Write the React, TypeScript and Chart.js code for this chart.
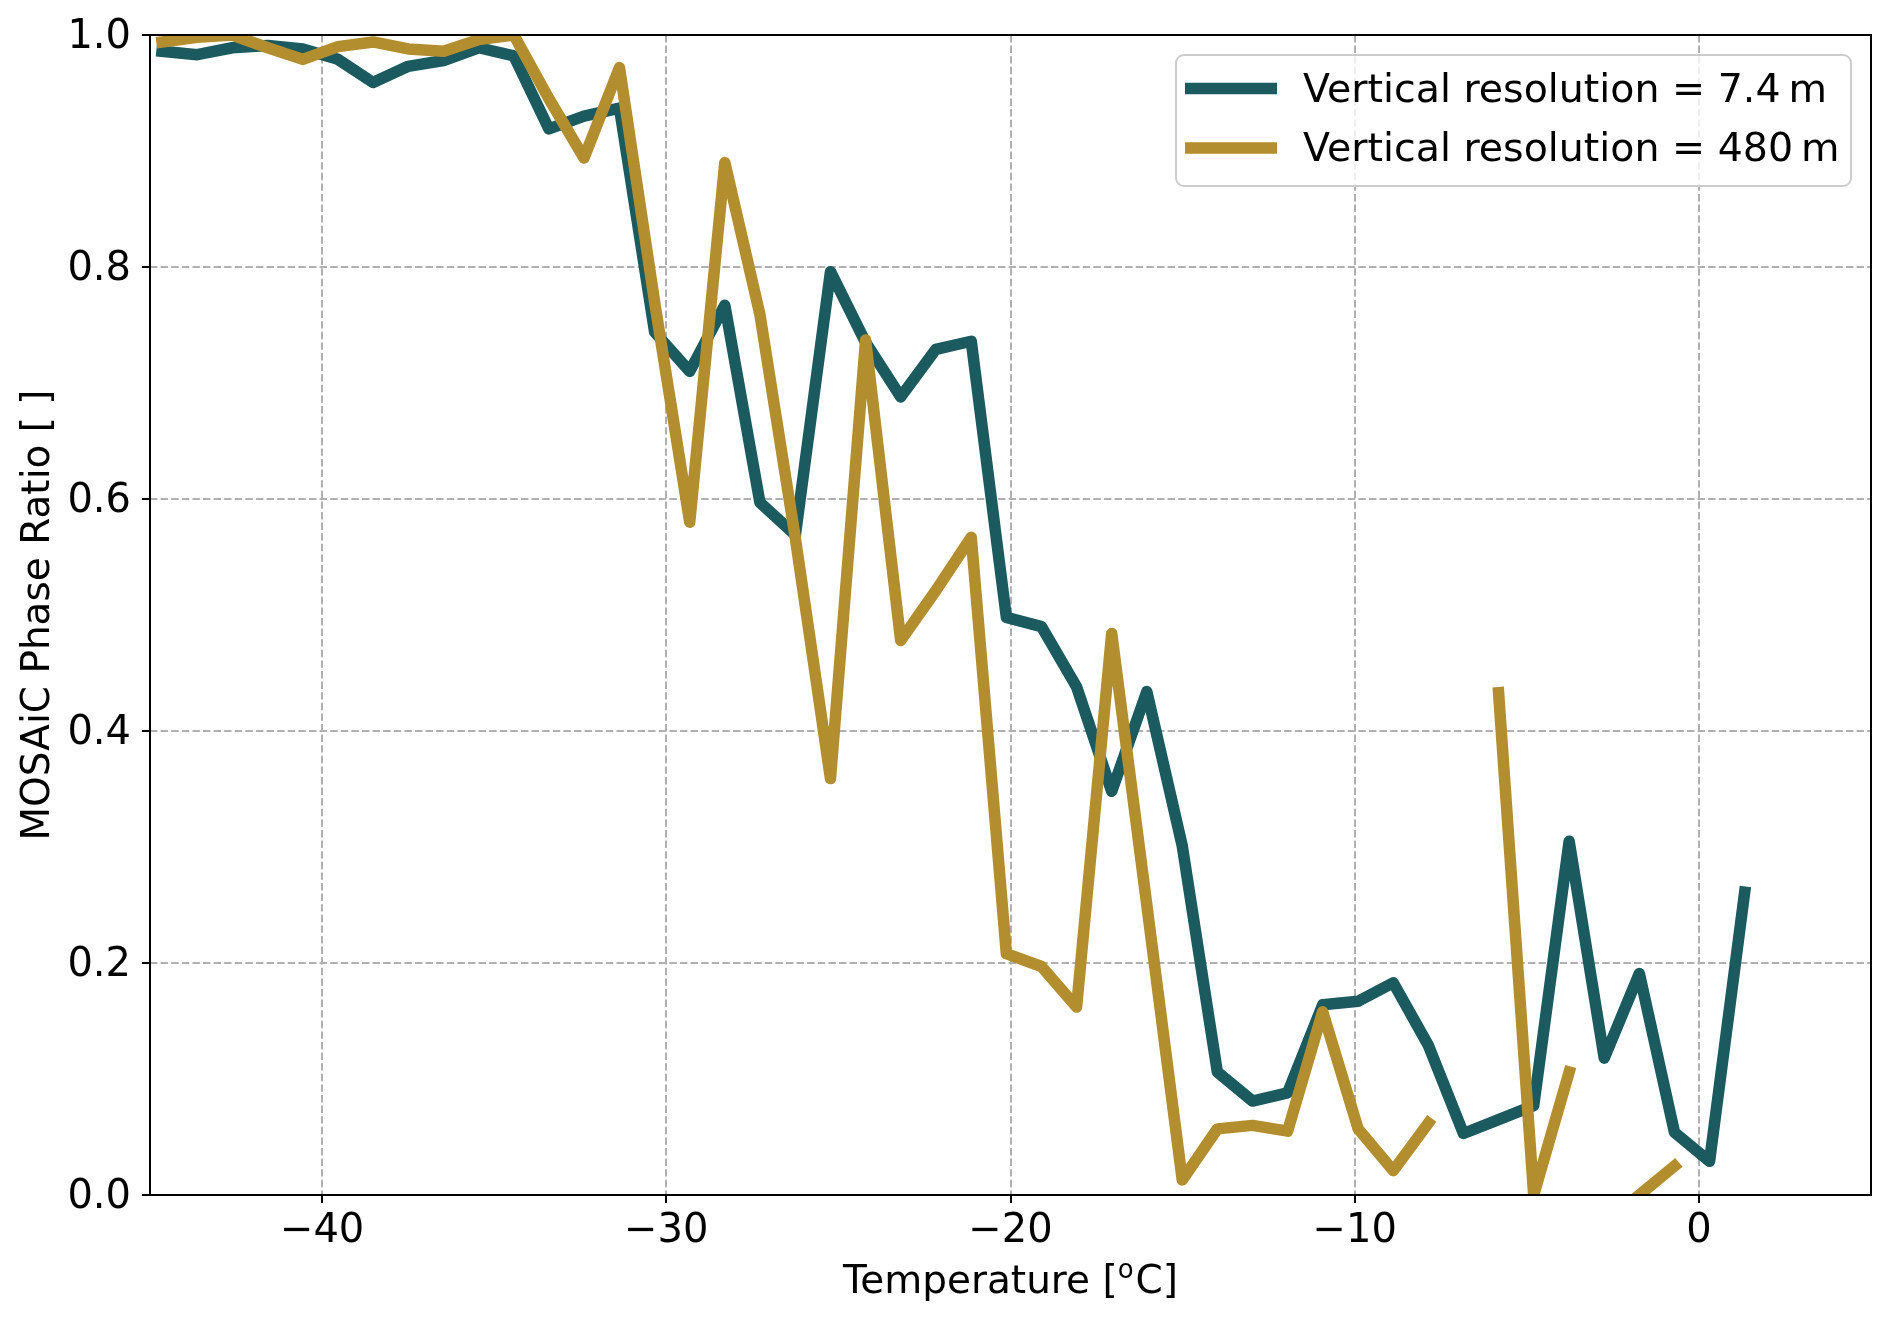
import { Chart, registerables } from 'chart.js'
import { useEffect, useRef } from 'react'

Chart.register(...registerables)

// temperature bin centres [°C]
const temperatures = [
  -44.65, -43.63, -42.61, -41.58, -40.56, -39.54, -38.52, -37.5, -36.47, -35.45,
  -34.43, -33.41, -32.39, -31.36, -30.34, -29.32, -28.3, -27.28, -26.25, -25.23,
  -24.21, -23.19, -22.17, -21.14, -20.12, -19.1, -18.08, -17.06, -16.04, -15.01,
  -13.99, -12.97, -11.95, -10.93, -9.9, -8.88, -7.86, -6.84, -5.82, -4.8,
  -3.77, -2.75, -1.73, -0.71, 0.31, 1.33,
]

// phase ratio at 7.4 m vertical resolution
const fineRatio = [
  0.986, 0.983, 0.989, 0.991, 0.988, 0.979, 0.959, 0.973, 0.978, 0.989,
  0.982, 0.919, 0.93, 0.937, 0.744, 0.71, 0.767, 0.597, 0.569, 0.796,
  0.735, 0.688, 0.729, 0.736, 0.498, 0.49, 0.438, 0.348, 0.434, 0.301,
  0.106, 0.081, 0.088, 0.164, 0.167, 0.183, 0.129, 0.053, 0.065, 0.077,
  0.305, 0.118, 0.191, 0.054, 0.029, 0.261,
]

// phase ratio at 480 m vertical resolution (null = no data)
const coarseRatio = [
  0.994, 0.998, 1.0, 0.989, 0.979, 0.99, 0.994, 0.988, 0.986, 0.996,
  1.0, 0.945, 0.894, 0.972, 0.77, 0.58, 0.89, 0.759, 0.566, 0.359,
  0.737, 0.478, 0.521, 0.567, 0.208, 0.197, 0.162, 0.484, 0.25, 0.013,
  0.057, 0.06, 0.055, 0.158, 0.057, 0.021, 0.062, null, 0.433, 0.0,
  0.106, null, 0.0, 0.025, null, null,
]

const seriesLabels = ['Vertical resolution = 7.4\u2009m', 'Vertical resolution = 480\u2009m']
const seriesColors = ['#1b5a5f', '#b38e2f']

const xTicks = [-40, -30, -20, -10, 0]
const yTicks = [0, 0.2, 0.4, 0.6, 0.8, 1.0]

// x label pieces: "Temperature [" + superscript "o" + "C]"
const xTitleParts = ['Temperature [', 'o', 'C]']
const yTitle = 'MOSAiC Phase Ratio [ ]'

const FONT = '"DejaVu Sans", sans-serif'

// matplotlib-like box around the axes
const framePlugin = {
  id: 'frame',
  afterDatasetsDraw(chart: Chart) {
    const { ctx, chartArea } = chart
    ctx.save()
    ctx.lineWidth = 2
    ctx.strokeStyle = '#000'
    ctx.strokeRect(chartArea.left, chartArea.top, chartArea.right - chartArea.left, chartArea.bottom - chartArea.top)
    ctx.restore()
  },
}

// x axis title with a superscript "o"
const xTitlePlugin = {
  id: 'xTitle',
  afterDraw(chart: Chart) {
    const { ctx, chartArea } = chart
    const [pre, sup, post] = xTitleParts
    const big = `39px ${FONT}`
    const small = `26px ${FONT}`
    ctx.save()
    ctx.fillStyle = '#000'
    ctx.textBaseline = 'alphabetic'
    ctx.textAlign = 'left'
    ctx.font = big
    const wPre = ctx.measureText(pre).width
    const wPost = ctx.measureText(post).width
    ctx.font = small
    const wSup = ctx.measureText(sup).width
    const total = wPre + wSup + 2 + wPost
    const baseline = chartArea.bottom + 98
    let x = (chartArea.left + chartArea.right) / 2 - total / 2
    ctx.font = big
    ctx.fillText(pre, x, baseline)
    x += wPre
    ctx.font = small
    ctx.fillText(sup, x, baseline - 15)
    x += wSup + 2
    ctx.font = big
    ctx.fillText(post, x, baseline)
    ctx.restore()
  },
}

// legend in the upper right corner, inside the axes
const boxLegendPlugin = {
  id: 'boxLegend',
  afterDraw(chart: Chart) {
    const { ctx, chartArea } = chart
    const boxW = 675
    const boxH = 131
    const x0 = chartArea.right - 20 - boxW
    const y0 = chartArea.top + 20
    ctx.save()
    ctx.beginPath()
    ctx.roundRect(x0, y0, boxW, boxH, 8)
    ctx.fillStyle = 'rgba(255,255,255,0.8)'
    ctx.fill()
    ctx.lineWidth = 2
    ctx.strokeStyle = '#cccccc'
    ctx.stroke()
    chart.data.datasets.forEach((ds: any, i: number) => {
      const y = y0 + 33.6 + i * 59.4
      ctx.beginPath()
      ctx.moveTo(x0 + 9, y)
      ctx.lineTo(x0 + 101, y)
      ctx.lineWidth = 11.5
      ctx.lineCap = 'butt'
      ctx.strokeStyle = ds.borderColor
      ctx.stroke()
      ctx.fillStyle = '#000'
      ctx.font = `39.5px ${FONT}`
      ctx.textAlign = 'left'
      ctx.textBaseline = 'middle'
      ctx.fillText(ds.label, x0 + 127, y + 3)
    })
    ctx.restore()
  },
}

export default function App() {
  const canvasRef = useRef<HTMLCanvasElement>(null)
  const chartRef = useRef<Chart | null>(null)

  useEffect(() => {
    if (!canvasRef.current) return
    chartRef.current?.destroy()

    const lineStyle = {
      borderWidth: 11.5,
      pointRadius: 0,
      tension: 0,
      spanGaps: false,
      clip: 0,
      borderJoinStyle: 'round' as const,
      borderCapStyle: 'square' as const,
    }

    const gridStyle = {
      color: '#b0b0b0',
      lineWidth: 2,
      tickLength: 8,
      tickColor: '#000',
      tickWidth: 2,
      tickBorderDash: [],
    }

    chartRef.current = new Chart(canvasRef.current, {
      type: 'line',
      data: {
        datasets: [
          {
            ...lineStyle,
            label: seriesLabels[0],
            borderColor: seriesColors[0],
            backgroundColor: seriesColors[0],
            data: temperatures.map((t, i) => ({ x: t, y: fineRatio[i] })),
            order: 1,
          },
          {
            ...lineStyle,
            label: seriesLabels[1],
            borderColor: seriesColors[1],
            backgroundColor: seriesColors[1],
            data: temperatures.map((t, i) => ({ x: t, y: coarseRatio[i] })),
            order: 0,
          },
        ],
      },
      options: {
        responsive: false,
        animation: false,
        events: [],
        layout: { padding: { left: 0, top: 34, right: 21, bottom: 0 } },
        plugins: {
          legend: { display: false },
          tooltip: { enabled: false },
        },
        scales: {
          x: {
            type: 'linear',
            min: -45,
            max: 5,
            afterFit: (scale: any) => {
              scale.height = 126
            },
            afterBuildTicks: (axis: any) => {
              axis.ticks = xTicks.map((value) => ({ value }))
            },
            ticks: {
              autoSkip: false,
              maxRotation: 0,
              padding: 5,
              color: '#000',
              font: { family: FONT, size: 40 },
              callback: (v: any) => String(v).replace('-', '\u2212'),
            },
            grid: gridStyle,
            border: { display: false, dash: [7.4, 3.2] },
            title: { display: false },
          },
          y: {
            type: 'linear',
            min: 0,
            max: 1,
            afterFit: (scale: any) => {
              scale.width = 150
            },
            afterBuildTicks: (axis: any) => {
              axis.ticks = yTicks.map((value) => ({ value }))
            },
            ticks: {
              autoSkip: false,
              padding: 11,
              labelOffset: 3,
              color: '#000',
              font: { family: FONT, size: 40 },
              callback: (v: any) => Number(v).toFixed(1),
            },
            grid: gridStyle,
            border: { display: false, dash: [7.4, 3.2] },
            title: {
              display: true,
              text: yTitle,
              color: '#000',
              font: { family: FONT, size: 39 },
              padding: { top: 15, bottom: 0 },
            },
          },
        },
      },
      plugins: [framePlugin, xTitlePlugin, boxLegendPlugin],
    })

    return () => {
      chartRef.current?.destroy()
      chartRef.current = null
    }
  }, [])

  return (
    <div style={{ position: 'absolute', left: 0, top: 0, width: 1892, height: 1321, background: '#fff' }}>
      <canvas ref={canvasRef} width={1892} height={1321} style={{ display: 'block', width: 1892, height: 1321 }} />
    </div>
  )
}
